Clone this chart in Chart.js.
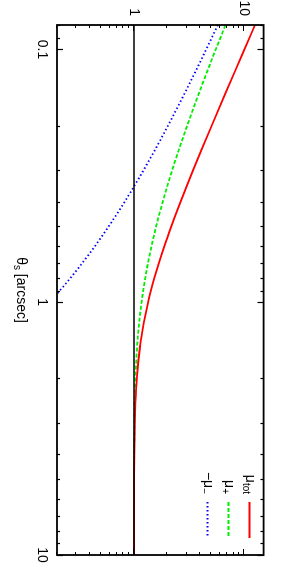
<!DOCTYPE html>
<html><head><meta charset="utf-8">
<script src="https://cdn.jsdelivr.net/npm/chart.js@4"></script>
<style>
html,body{margin:0;padding:0;background:#fff;overflow:hidden;width:281px;height:573px;}
#wrap{position:absolute;left:0;top:0;width:573px;height:281px;transform-origin:0 0;transform:translateX(281px) rotate(90deg);background:#fff;}
canvas{display:block;}
</style></head><body>
<div id="wrap"><canvas id="c" width="573" height="281"></canvas></div>
<script>
// source position theta_s [arcsec]
const thetaS = [0.08, 0.1, 0.12, 0.15, 0.2, 0.25, 0.3, 0.35, 0.4, 0.45, 0.5, 0.6, 0.7, 0.8, 0.9, 1.0, 1.1, 1.2, 1.3, 1.5, 2, 2.5, 3, 4, 5, 7, 10];
// total magnification
const muTot = [12.53, 10.04, 8.378, 6.723, 5.075, 4.093, 3.445, 2.987, 2.648, 2.388, 2.183, 1.884, 1.679, 1.532, 1.424, 1.342, 1.279, 1.229, 1.190, 1.133, 1.061, 1.031, 1.017, 1.006, 1.003, 1.001, 1.000];
// magnification of the + image
const muPlus = [6.765, 5.519, 4.689, 3.861, 3.037, 2.547, 2.222, 1.993, 1.824, 1.694, 1.591, 1.442, 1.339, 1.266, 1.212, 1.171, 1.139, 1.115, 1.095, 1.067, 1.030, 1.015, 1.008, 1.003, 1.001, 1.000, 1.000];
// minus magnification of the - image
const minusMuMinus = [5.765, 4.519, 3.689, 2.861, 2.037, 1.547, 1.222, 0.993, 0.824, 0.694, 0.591, 0.442, 0.339, 0.266, 0.212, 0.171, null, null, null, null, null, null, null, null, null, null, null];
// reference level mu = 1
const unityTheta = [0.08, 10];
const unityMu = [1, 1];

const xTickLabels = [0.1, 1, 10];
const yTickLabels = [1, 10];
const xMinorTicks = [0.08, 0.09, 0.2, 0.3, 0.4, 0.5, 0.6, 0.7, 0.8, 0.9, 2, 3, 4, 5, 6, 7, 8, 9];
const yMinorTicks = [0.2, 0.3, 0.4, 0.5, 0.6, 0.7, 0.8, 0.9, 2, 3, 4, 5, 6, 7, 8, 9];

const seriesBase = ['μ', 'μ', '−μ'];
const seriesSub = ['tot', '+', '−'];
const xTitleBase = 'θ';
const xTitleSub = 's';
const xTitleRest = ' [arcsec]';

const FONT = '"Liberation Sans", Arial, Helvetica, sans-serif';
const colors = ['#ff0000', '#00ee00', '#0000ff'];
const dashes = [[], [4, 2], [1.5, 2.5]];

function pts(xs, ys) { return xs.map((x, i) => ({x: x, y: ys[i]})); }

const series = [muTot, muPlus, minusMuMinus];
const datasets = series.map((s, i) => ({
  label: seriesBase[i] + seriesSub[i],
  data: pts(thetaS, s),
  borderColor: colors[i],
  borderWidth: 1.8,
  borderDash: dashes[i],
  pointRadius: 0,
  fill: false,
  spanGaps: false,
  order: 1,
  cubicInterpolationMode: 'monotone'
}));
datasets.push({
  label: 'unity',
  data: pts(unityTheta, unityMu),
  borderColor: '#000000',
  borderWidth: 1.6,
  pointRadius: 0,
  fill: false,
  order: 0
});

function drawSub(ctx, base, sub, x, y, align) {
  ctx.font = '14px ' + FONT;
  const wb = ctx.measureText(base).width;
  ctx.font = '10px ' + FONT;
  const ws = ctx.measureText(sub).width;
  let x0 = align === 'right' ? x - wb - ws : (align === 'center' ? x - (wb + ws) / 2 : x);
  ctx.textAlign = 'left';
  ctx.textBaseline = 'alphabetic';
  ctx.font = '14px ' + FONT;
  ctx.fillText(base, x0, y);
  ctx.font = '10px ' + FONT;
  ctx.fillText(sub, x0 + wb, y + 3);
  return x0 + wb + ws;
}

const framePlugin = {
  id: 'frame',
  afterDraw(chart) {
    const ctx = chart.ctx;
    const a = chart.chartArea;
    const xs = chart.scales.x, ys = chart.scales.y;
    ctx.save();
    ctx.strokeStyle = '#000';
    ctx.fillStyle = '#000';
    ctx.lineWidth = 1.2;
    ctx.setLineDash([]);
    const tick = (v, len, axis) => {
      if (axis === 'x') {
        const p = Math.round(xs.getPixelForValue(v)) + 0.5;
        ctx.beginPath();
        ctx.moveTo(p, a.bottom); ctx.lineTo(p, a.bottom - len);
        ctx.moveTo(p, a.top); ctx.lineTo(p, a.top + len);
        ctx.stroke();
      } else {
        const p = Math.round(ys.getPixelForValue(v)) + 0.5;
        ctx.beginPath();
        ctx.moveTo(a.left, p); ctx.lineTo(a.left + len, p);
        ctx.moveTo(a.right, p); ctx.lineTo(a.right - len, p);
        ctx.stroke();
      }
    };
    xTickLabels.forEach(v => tick(v, 6, 'x'));
    xMinorTicks.forEach(v => tick(v, 3, 'x'));
    yTickLabels.forEach(v => tick(v, 6, 'y'));
    yMinorTicks.forEach(v => tick(v, 3, 'y'));
    ctx.lineWidth = 1.8;
    ctx.strokeRect(a.left, a.top, a.right - a.left, a.bottom - a.top);
    // x axis title
    ctx.font = '14px ' + FONT;
    const wRest = ctx.measureText(xTitleRest).width;
    const wB = ctx.measureText(xTitleBase).width;
    ctx.font = '10px ' + FONT;
    const wS = ctx.measureText(xTitleSub).width;
    const total = wB + wS + wRest;
    const cx = (a.left + a.right) / 2;
    const endX = drawSub(ctx, xTitleBase, xTitleSub, cx - total / 2, 264, 'left');
    ctx.font = '14px ' + FONT;
    ctx.fillText(xTitleRest, endX, 264);
    // legend
    const rowsY = [31, 52, 73];
    for (let i = 0; i < 3; i++) {
      const y = rowsY[i];
      ctx.fillStyle = '#000';
      drawSub(ctx, seriesBase[i], seriesSub[i], 494, y + 4, 'right');
      ctx.strokeStyle = colors[i];
      ctx.lineWidth = 1.8;
      ctx.setLineDash(dashes[i]);
      ctx.beginPath();
      ctx.moveTo(502, y + 0.5); ctx.lineTo(538, y + 0.5);
      ctx.stroke();
    }
    ctx.restore();
  }
};

new Chart(document.getElementById('c').getContext('2d'), {
  type: 'line',
  data: { datasets: datasets },
  options: {
    responsive: false,
    animation: false,
    devicePixelRatio: 1,
    layout: { padding: { top: 15, right: 18, left: 0, bottom: 0 } },
    plugins: { legend: { display: false }, tooltip: { enabled: false } },
    scales: {
      x: {
        type: 'logarithmic', min: 0.08, max: 10,
        afterBuildTicks: s => { s.ticks = xTickLabels.map(v => ({ value: v })); },
        afterFit: s => { s.height = 57; },
        grid: { display: false, drawTicks: false },
        border: { display: false },
        ticks: { padding: 7, color: '#000', font: { family: FONT, size: 14 }, maxRotation: 0, autoSkip: false,
                 callback: v => String(v) }
      },
      y: {
        type: 'logarithmic', min: 0.2, max: 15,
        afterBuildTicks: s => { s.ticks = yTickLabels.map(v => ({ value: v })); },
        afterFit: s => { s.width = 25; },
        grid: { display: false, drawTicks: false },
        border: { display: false },
        ticks: { padding: 9, color: '#000', font: { family: FONT, size: 14 }, autoSkip: false,
                 callback: v => String(v) }
      }
    }
  },
  plugins: [framePlugin]
});
</script>
</body></html>
